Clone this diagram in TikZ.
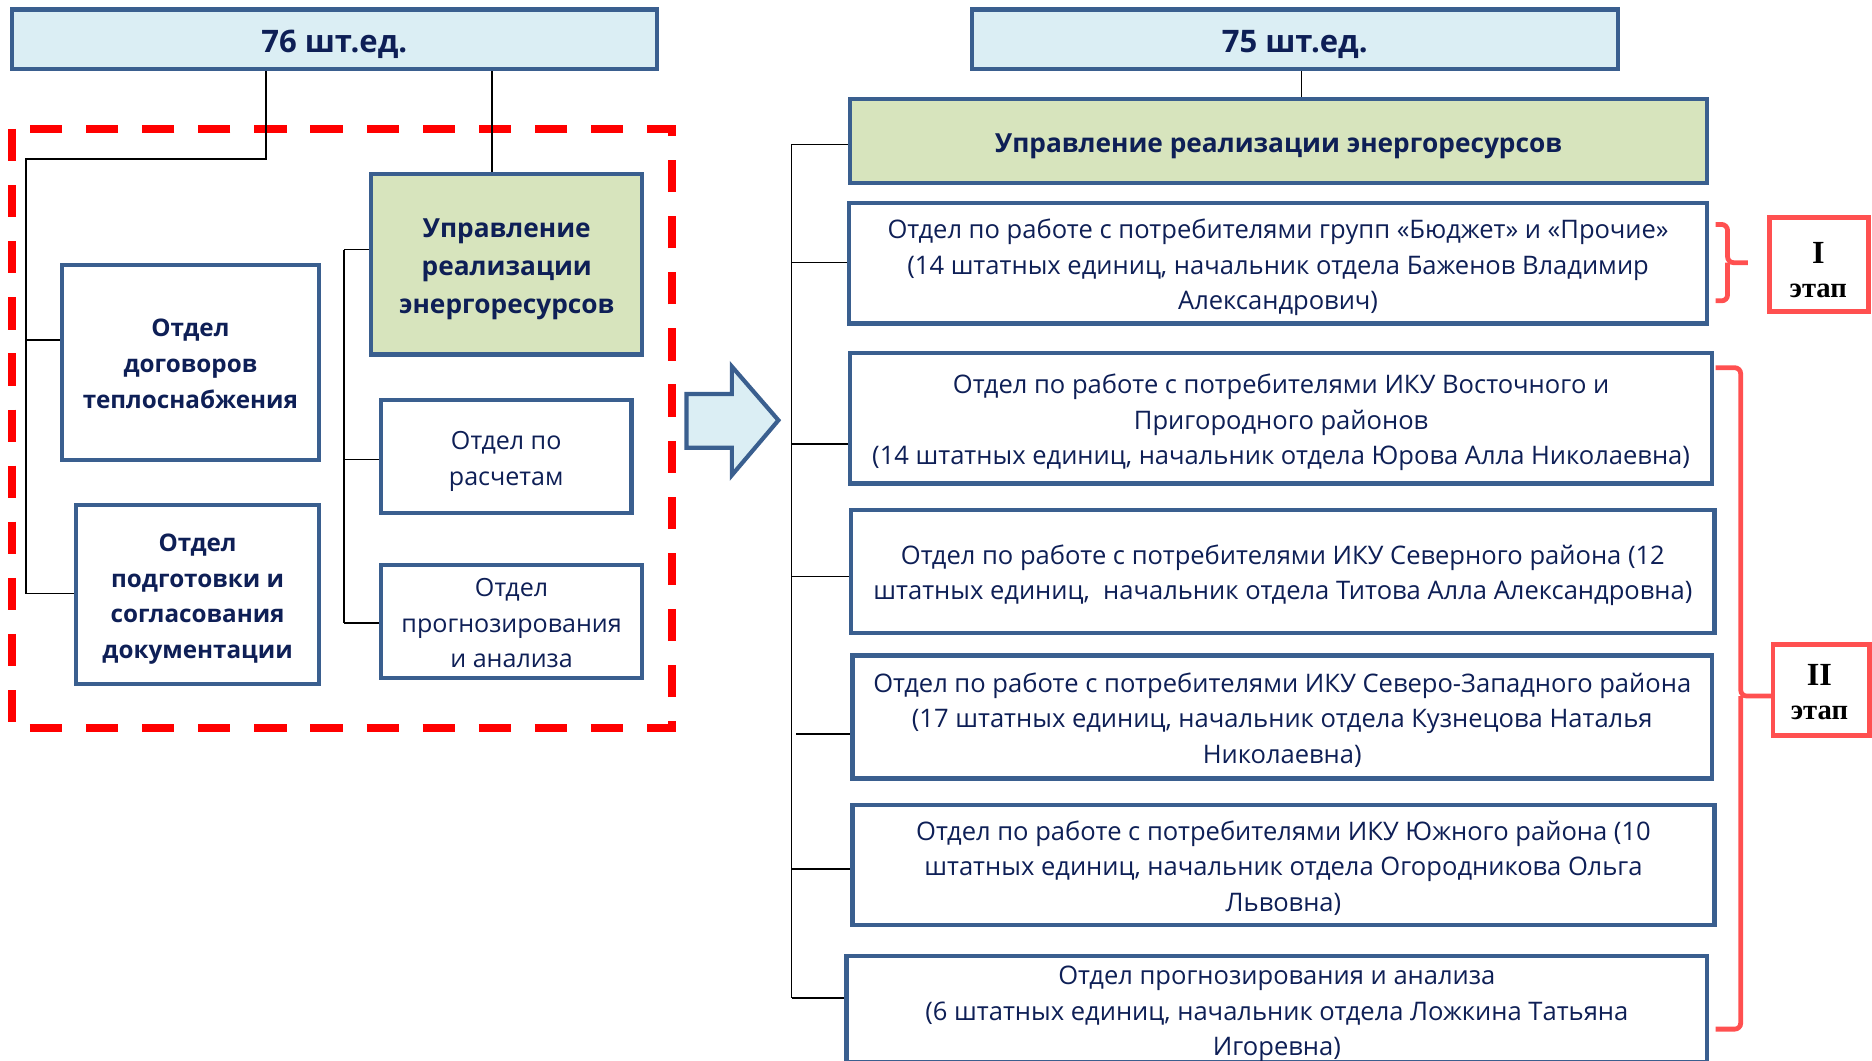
\documentclass[tikz,border=0pt]{standalone}
\usepackage{fontspec}
\setmainfont{Open Sans}
\newfontfamily\serifb{Liberation Serif}
\definecolor{bord}{HTML}{3A5F8F}
\definecolor{lblue}{HTML}{DBEEF4}
\definecolor{lgreen}{HTML}{D7E4BD}
\definecolor{txt}{HTML}{0E1F56}
\definecolor{redd}{HTML}{FF0000}
\definecolor{redb}{HTML}{FF5050}
\newcommand\topS{\rule{0pt}{1.12em}}
\newcommand\botS{\rule[-0.26em]{0pt}{0pt}}
\begin{document}
\begin{tikzpicture}[x=1pt,y=-1pt,
  box/.style={draw=bord, line width=3.5pt, fill=white, text=txt, align=center, inner sep=0pt,
    font=\fontsize{21}{29.5}\selectfont},
  rbox/.style={box, font=\fontsize{21.4}{29.7}\selectfont},
  bbox/.style={box, font=\fontsize{20.3}{30}\selectfont\bfseries},
  gbox/.style={box, fill=lgreen, font=\fontsize{22}{32}\selectfont\bfseries},
  tbox/.style={box, fill=lblue, font=\fontsize{26}{30}\selectfont\bfseries},
  conn/.style={draw=black, line width=1.4pt},
  brace/.style={draw=redb, line width=4pt, rounded corners=5pt},
  stageframe/.style={draw=redb, line width=4pt},
  stagetext/.style={text=black, align=center, inner sep=0pt, font=\serifb\bfseries\fontsize{24}{28.5}\selectfont}
]
\useasboundingbox (0,0) rectangle (1568,888);

% dashed frame
\draw[redd, line width=6.5pt, dash pattern=on 27pt off 20pt] (10,108) rectangle (563,610);

% ---------------- left part ----------------
\node[tbox, minimum width=540pt, minimum height=50pt] (top76) at (280,33) {\topS 76 шт.ед.\botS};
\node[gbox, minimum width=227pt, minimum height=151pt] (greenL) at (424.5,221.5) {\topS Управление\\реализации\\энергоресурсов\botS};
\node[bbox, minimum width=215pt, minimum height=163pt] (dog) at (159.5,303.5) {\topS Отдел\\договоров\\теплоснабжения\botS};
\node[bbox, minimum width=203pt, minimum height=150pt] (podg) at (165.5,498) {\topS Отдел\\подготовки и\\согласования\\документации\botS};
\node[box, minimum width=210pt, minimum height=95pt] (rasch) at (424,382.5) {\topS Отдел по\\расчетам\botS};
\node[box, minimum width=219pt, minimum height=95pt] (progL) at (428.5,520.5) {\topS Отдел\\прогнозирования\\и анализа\botS};

\coordinate (a1) at (223,133);
\coordinate (a2) at (22,133);
\coordinate (a3) at (22,497);
\coordinate (a4) at (22,285);
\coordinate (b0) at (412,0);
\coordinate (c1) at (288,209);
\coordinate (c2) at (288,385);
\coordinate (c3) at (288,522);

% ---------------- right part ----------------
\node[tbox, minimum width=541pt, minimum height=50pt] (top75) at (1084.5,33) {\topS 75 шт.ед.\botS};
\node[gbox, minimum width=718pt, minimum height=70pt] (greenR) at (1071,118) {\topS Управление реализации энергоресурсов\botS};
\node[rbox, minimum width=719pt, minimum height=101pt] (b1) at (1070.5,220.5) {\topS Отдел по работе с потребителями групп «Бюджет» и «Прочие»\\(14 штатных единиц, начальник отдела Баженов Владимир\\Александрович)\botS};
\node[rbox, minimum width=722pt, minimum height=109pt] (b2) at (1073,350.5) {\topS Отдел по работе с потребителями ИКУ Восточного и\\Пригородного районов\\(14 штатных единиц, начальник отдела Юрова Алла Николаевна)\botS};
\node[rbox, minimum width=723pt, minimum height=103pt] (b3) at (1074.5,478.5) {\topS Отдел по работе с потребителями ИКУ Северного района (12\\штатных единиц,\ \ начальник отдела Титова Алла Александровна)\botS};
\node[rbox, minimum width=720pt, minimum height=103pt] (b4) at (1074,600.5) {\topS Отдел по работе с потребителями ИКУ Северо-Западного района\\(17 штатных единиц, начальник отдела Кузнецова Наталья\\Николаевна)\botS};
\node[rbox, minimum width=722pt, minimum height=101pt] (b5) at (1075,724.5) {\topS Отдел по работе с потребителями ИКУ Южного района (10\\штатных единиц, начальник отдела Огородникова Ольга\\Львовна)\botS};
\node[rbox, minimum width=721pt, minimum height=84pt] (b6) at (1069.5,845.5) {\topS Отдел прогнозирования и анализа\\(6 штатных единиц, начальник отдела Ложкина Татьяна\\Игоревна)\botS};

\coordinate (r0) at (663,121);
\coordinate (r1) at (663,220);
\coordinate (r2) at (663,372);
\coordinate (r3) at (663,483);
\coordinate (r4) at (667,615);
\coordinate (r5) at (663,728);
\coordinate (r6) at (663,836);
\coordinate (rt) at (1090,0);

% left connectors
\draw[conn] (top76.south -| a1) -- (a1) -- (a2) -- (a3) -- (a3 -| podg.west);
\draw[conn] (a4) -- (a4 -| dog.west);
\draw[conn] (top76.south -| b0) -- (greenL.north -| b0);
\draw[conn] (c1) -- (c3);
\draw[conn] (c1) -- (c1 -| greenL.west);
\draw[conn] (c2) -- (c2 -| rasch.west);
\draw[conn] (c3) -- (c3 -| progL.west);

% right connectors
\draw[conn] (top75.south -| rt) -- (greenR.north -| rt);
\draw[conn] (r0) -- (r6);
\draw[conn] (r0) -- (r0 -| greenR.west);
\draw[conn] (r1) -- (r1 -| b1.west);
\draw[conn] (r2) -- (r2 -| b2.west);
\draw[conn] (r3) -- (r3 -| b3.west);
\draw[conn] (r4) -- (r4 -| b4.west);
\draw[conn] (r5) -- (r5 -| b5.west);
\draw[conn] (r6) -- (r6 -| b6.west);

% transition arrow
\draw[draw=bord, line width=3.5pt, fill=lblue, line join=miter]
  (575,330) -- (613,330) -- (613,307) -- (652,352) -- (613,398) -- (613,375) -- (575,375) -- cycle;

% braces
\draw[brace] (1437,188) -| (1447,220) -- (1464,220);
\draw[brace] (1447,220) |- (1437,252);
\draw[brace] (1437,308) -| (1458,583) -- (1485,583);
\draw[brace] (1458,583) |- (1437,862);

% stage labels
\draw[stageframe] (1482,182) rectangle (1565,261);
\node[stagetext] (s1) at (1523,226) {{\fontsize{27}{28.5}\selectfont I}\\этап};
\draw[stageframe] (1485,540) rectangle (1566,616);
\node[stagetext] (s2) at (1524,580) {{\fontsize{27}{28.5}\selectfont II}\\этап};
\end{tikzpicture}
\end{document}
